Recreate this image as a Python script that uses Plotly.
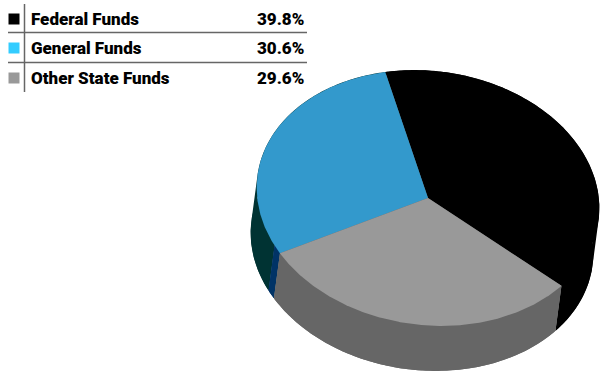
import numpy as np
import plotly.graph_objects as go

categories = ["Federal Funds", "General Funds", "Other State Funds"]
shares = [39.8, 30.6, 29.6]
share_labels = ["39.8%", "30.6%", "29.6%"]
top_colors = ["#000000", "#3399CC", "#999999"]
side_colors = ["#000000", "#003333", "#666666"]
swatch_colors = ["#000000", "#33CCFF", "#999999"]
cut_wall_color = "#003366"
seam_color = "#666666"

# Drawing geometry of the tilted pie (pixels of the 600x371 page)
CX, CY, A, B = 428.0, 198.0, 172.0, 127.0
TILT = np.radians(7.5)
DX, DY = -6.0, 45.0
START = -20.0            # federal/general boundary, degrees clockwise from top
GENERAL_WARP = 4.4       # perspective foreshortening on the general/other boundary
CUT_WALL = 3.8           # apparent width of the cut wall, degrees


def rim(t_deg, dx=0.0, dy=0.0, k=1.0):
    t = np.radians(t_deg)
    ex, ey = k * A * np.sin(t), -k * B * np.cos(t)
    return (CX + dx + ex * np.cos(TILT) - ey * np.sin(TILT),
            CY + dy + ex * np.sin(TILT) + ey * np.cos(TILT))


def arc(t0, t1):
    return np.linspace(t0, t1, max(int(abs(t1 - t0) * 2), 2))


def poly(fig, x, y, color):
    fig.add_trace(go.Scatter(x=x, y=y, mode="lines", fill="toself", fillcolor=color,
                             line=dict(width=0), hoverinfo="skip", showlegend=False))


spans = [s * 3.6 for s in shares]
fed_end = START + spans[0]
gen_end = START - spans[1] + GENERAL_WARP

fig = go.Figure()


def side(t0, t1, color):
    ts = arc(t0, t1)
    x0, y0 = rim(ts)
    x1, y1 = rim(ts, DX, DY)
    # swept wall: overlapping quads of one orientation, so the silhouette
    # follows the straight tangent between the upper and lower rims
    qx, qy = [], []
    step = 2 if len(ts) > 2 else 1
    for i in range(0, len(ts) - step):
        j = i + step
        px = [x0[i], x0[j], x1[j], x1[i]]
        py = [y0[i], y0[j], y1[j], y1[i]]
        area = sum(px[k] * py[(k + 1) % 4] - px[(k + 1) % 4] * py[k] for k in range(4))
        if area < 0:
            px, py = px[::-1], py[::-1]
        qx += px + [px[0], None]
        qy += py + [py[0], None]
    poly(fig, qx, qy, color)
    # inner band: upper edge hidden under the top face, closes anti-alias seams
    xi, yi = rim(ts, k=0.96)
    poly(fig, np.r_[x0[0], xi, x0[-1], x1[::-1]], np.r_[y0[0], yi, y0[-1], y1[::-1]], color)


side(START, fed_end, side_colors[0])
side(gen_end + CUT_WALL, START, side_colors[1])
side(gen_end, gen_end + CUT_WALL, cut_wall_color)
side(fed_end, gen_end + 360, side_colors[2])


def top(t0, t1, color):
    x, y = rim(arc(t0, t1))
    poly(fig, np.r_[CX, x, CX], np.r_[CY, y, CY], color)


bx, by = rim(arc(0, 360), k=0.985)
poly(fig, bx, by, seam_color)
top(START, fed_end, top_colors[0])
top(gen_end, START, top_colors[1])
top(fed_end, gen_end + 360, top_colors[2])

# Legend table
rows_y = [19, 48, 78]
fig.add_trace(go.Scatter(x=[14] * 3, y=rows_y, mode="markers",
                         marker=dict(symbol="square", size=11, color=swatch_colors, line=dict(width=0)),
                         hoverinfo="skip", showlegend=False))
FONT = dict(family="Roboto", size=17, color="#000000", weight=900)
for name, lab, y in zip(categories, share_labels, rows_y):
    fig.add_annotation(x=29, y=y, text=name, showarrow=False, xanchor="left", yanchor="middle", font=FONT)
    fig.add_annotation(x=305.5, y=y, text=lab, showarrow=False, xanchor="right", yanchor="middle", font=FONT)

rule = dict(color="#666666", width=1.5)
fig.add_shape(type="line", x0=24.5, x1=24.5, y0=4, y1=92, line=rule)
fig.add_shape(type="line", x0=8, x1=307, y0=32.5, y1=32.5, line=rule)
fig.add_shape(type="line", x0=8, x1=307, y0=62.5, y1=62.5, line=rule)

fig.update_layout(width=600, height=371, margin=dict(l=0, r=0, t=0, b=0),
                  paper_bgcolor="white", plot_bgcolor="white", showlegend=False,
                  xaxis=dict(range=[0, 600], visible=False, fixedrange=True),
                  yaxis=dict(range=[371, 0], visible=False, fixedrange=True))
fig.write_html("out.html", config=dict(displayModeBar=False),
               post_script="document.body.style.margin='0';document.body.style.overflow='hidden';")
